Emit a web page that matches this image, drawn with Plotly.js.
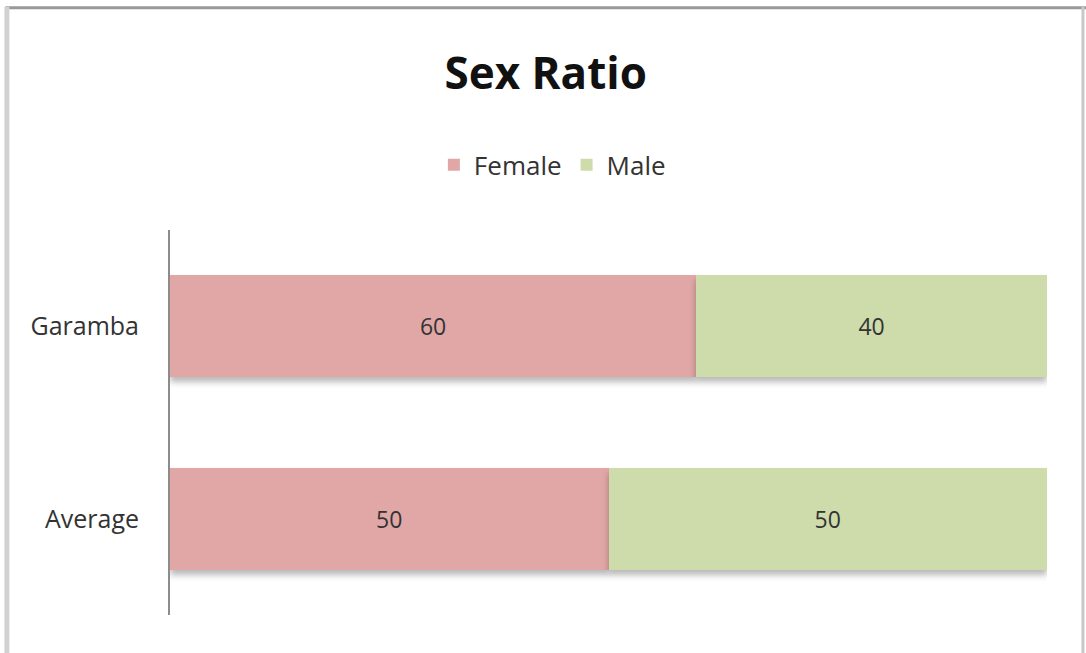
<!DOCTYPE html>
<html><head><meta charset="utf-8">
<script src="https://cdn.plot.ly/plotly-3.0.1.min.js"></script>
<style>
html,body{margin:0;padding:0;background:#fff;}
#chart{width:1086px;height:653px;}
.trace.bars path{filter:drop-shadow(0px 5px 3px rgba(0,0,0,0.28));}
</style></head>
<body><div id="chart"></div>
<script>
const categories = ["Average", "Garamba"];
const femaleValues = [50, 60];
const maleValues = [50, 40];
const seriesNames = ["Female", "Male"];
const chartTitle = "Sex Ratio";

const font = "'Open Sans', sans-serif";
const traces = [
  {type:'bar', orientation:'h', name:seriesNames[0], y:categories, x:femaleValues,
   marker:{color:'#E0A7A6'}, text:femaleValues.map(String), textposition:'inside',
   insidetextanchor:'middle', textfont:{family:font,size:23,color:'#333'}, hoverinfo:'none'},
  {type:'bar', orientation:'h', name:seriesNames[1], y:categories, x:maleValues,
   marker:{color:'#CDDCAA'}, text:maleValues.map(String), textposition:'inside',
   insidetextanchor:'middle', textfont:{family:font,size:23,color:'#333'}, hoverinfo:'none'}
];
const layout = {
  width:1086, height:653,
  margin:{l:170, r:39, t:230, b:38},
  paper_bgcolor:'#fff', plot_bgcolor:'#fff',
  barmode:'stack', bargap:0.47,
  title:{text:'<b>'+chartTitle+'</b>', x:0.5025, xanchor:'center', y:0.887, yanchor:'middle',
         font:{family:font,size:44,color:'#111'}},
  showlegend:true,
  legend:{orientation:'h', x:0.436, xanchor:'center', y:1.169, yanchor:'middle',
          font:{family:font,size:26,color:'#333'}, traceorder:'normal', itemwidth:30},
  xaxis:{range:[0,100], visible:false, fixedrange:true},
  yaxis:{showline:true, linecolor:'#8c8c8c', linewidth:2, ticks:'', showgrid:false,
         zeroline:false, tickfont:{family:font,size:25,color:'#333'}, ticklabelstandoff:24,
         range:[-0.5,1.5], fixedrange:true},
  shapes:[
    {type:'line', xref:'paper', yref:'paper', x0:-0.1875, x1:1.045, y0:1.5775, y1:1.5775, line:{color:'#999',width:3}},
    {type:'line', xref:'paper', yref:'paper', x0:-0.186, x1:-0.186, y0:1.58, y1:-0.2, line:{color:'#d2d2d2',width:5}},
    {type:'line', xref:'paper', yref:'paper', x0:1.041, x1:1.041, y0:1.58, y1:-0.2, line:{color:'#c8c8c8',width:3}}
  ]
};
Plotly.newPlot('chart', traces, layout, {displayModeBar:false, staticPlot:true});
</script></body></html>
